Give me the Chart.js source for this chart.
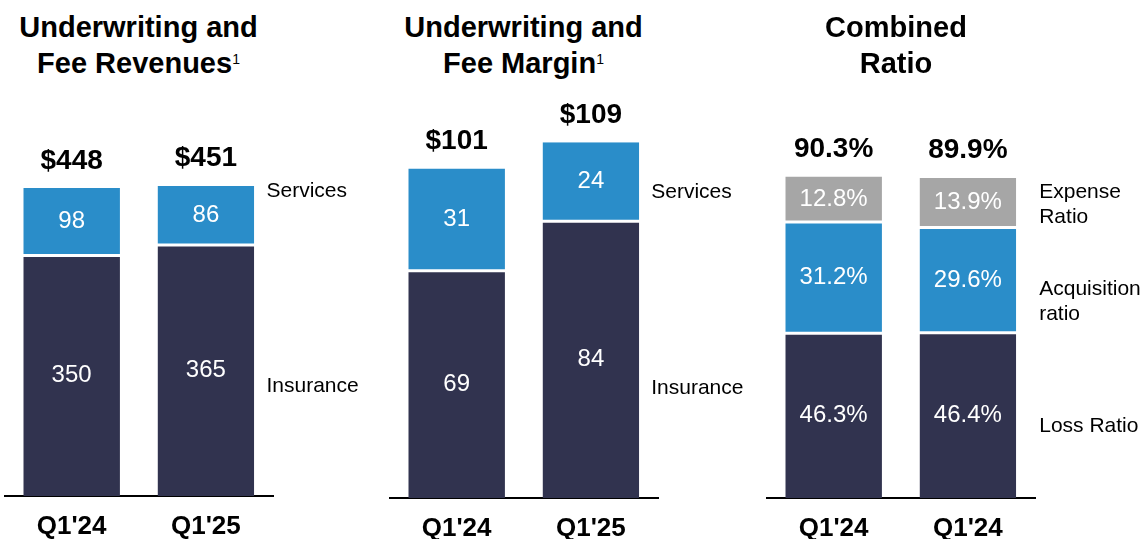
<!DOCTYPE html>
<html>
<head>
<meta charset="utf-8">
<script src="https://cdn.jsdelivr.net/npm/chart.js@4.4.1/dist/chart.umd.min.js"></script>
<style>
html,body{margin:0;padding:0;background:#fff;width:1146px;height:539px;overflow:hidden;font-family:"Liberation Sans",Arial,sans-serif;}
.panel{position:absolute;top:0;width:384px;height:539px;overflow:hidden;}
.panel canvas{position:absolute;left:0;top:0;}
.title{position:absolute;top:9px;width:268px;font-weight:bold;font-size:29px;line-height:36px;text-align:center;color:#000;white-space:nowrap;}
.title .sup{font-size:14px;font-weight:normal;position:relative;top:-9px;}
</style>
</head>
<body>
<div class="panel" style="left:0px">
  <div class="title" style="left:4.5px">Underwriting and<br>Fee Revenues<span class="sup">1</span></div>
  <canvas id="c1" width="384" height="558"></canvas>
</div>
<div class="panel" style="left:385px">
  <div class="title" style="left:4.5px">Underwriting and<br>Fee Margin<span class="sup">1</span></div>
  <canvas id="c2" width="384" height="560"></canvas>
</div>
<div class="panel" style="left:762px">
  <div class="title" style="left:0px">Combined<br>Ratio</div>
  <canvas id="c3" width="384" height="560"></canvas>
</div>
<script>
// ---- data ----
const categoriesRevenue = ["Q1'24", "Q1'25"];
const revenueInsurance = [350, 365];
const revenueServices = [98, 86];
const revenueTotals = ["$448", "$451"];

const categoriesMargin = ["Q1'24", "Q1'25"];
const marginInsurance = [69, 84];
const marginServices = [31, 24];
const marginTotals = ["$101", "$109"];

const categoriesRatio = ["Q1'24", "Q1'24"];
const lossRatio = [46.3, 46.4];
const acquisitionRatio = [31.2, 29.6];
const expenseRatio = [12.8, 13.9];
const ratioTotals = ["90.3%", "89.9%"];

// ---- styles ----
const FONT = '"Liberation Sans", Arial, sans-serif';
const NAVY = '#31334F';
const BLUE = '#2A8DC9';
const GRAY = '#A6A6A6';

const annotate = {
  id: 'annotate',
  afterDatasetsDraw(chart, args, opts) {
    const ctx = chart.ctx;
    const n = chart.data.datasets.length;
    ctx.save();
    // segment values
    ctx.fillStyle = '#fff';
    ctx.font = '24px ' + FONT;
    ctx.textAlign = 'center';
    ctx.textBaseline = 'middle';
    for (let i = 0; i < n; i++) {
      const meta = chart.getDatasetMeta(i);
      meta.data.forEach((el, j) => {
        const p = el.getProps(['x', 'y', 'base'], true);
        ctx.fillText(opts.fmt(chart.data.datasets[i].data[j]), p.x, (p.y + p.base) / 2);
      });
    }
    // totals
    ctx.fillStyle = '#000';
    ctx.font = 'bold 28px ' + FONT;
    ctx.textBaseline = 'alphabetic';
    const top = chart.getDatasetMeta(n - 1);
    top.data.forEach((el, j) => {
      const p = el.getProps(['x', 'y'], true);
      ctx.fillText(opts.totals[j], p.x, p.y - 19.5);
    });
    // side labels
    ctx.font = '21px ' + FONT;
    ctx.textAlign = 'left';
    ctx.textBaseline = 'middle';
    const ys = chart.scales.y;
    const x = chart.chartArea.right + opts.sideX;
    opts.side.forEach(s => {
      const yc = ys.getPixelForValue(s.at);
      const lh = 25;
      s.lines.forEach((t, k) => {
        ctx.fillText(t, x, yc + (k - (s.lines.length - 1) / 2) * lh);
      });
    });
    ctx.restore();
  }
};

function makeChart(id, labels, datasets, yMax, totals, fmt, side, sideX) {
  return new Chart(document.getElementById(id), {
    type: 'bar',
    data: { labels: labels, datasets: datasets },
    plugins: [annotate],
    options: {
      responsive: false,
      maintainAspectRatio: false,
      animation: false,
      devicePixelRatio: 1,
      layout: { padding: { left: 4.5, right: 111, top: 100, bottom: 0 } },
      datasets: { bar: { barPercentage: 0.72, categoryPercentage: 1 } },
      plugins: {
        legend: { display: false },
        tooltip: { enabled: false },
        annotate: { totals: totals, fmt: fmt, side: side, sideX: sideX }
      },
      scales: {
        x: {
          stacked: true,
          grid: { display: false, drawTicks: false },
          border: { display: true, color: '#000', width: 2 },
          ticks: { color: '#000', padding: 18, autoSkip: false, maxRotation: 0,
                   font: { family: FONT, size: 26, weight: 'bold', lineHeight: 1 } }
        },
        y: { stacked: true, display: false, min: 0, max: yMax }
      }
    }
  });
}

function seg(label, data, color, bw) {
  return {
    label: label, data: data, backgroundColor: color, borderColor: '#fff',
    borderWidth: bw, borderSkipped: false
  };
}
const LOWER = { top: 1.5, bottom: 0, left: 0, right: 0 };
const MIDDLE = { top: 1.5, bottom: 1.5, left: 0, right: 0 };
const UPPER = { top: 0, bottom: 1.5, left: 0, right: 0 };
const intFmt = v => String(v);
const pctFmt = v => v.toFixed(1) + '%';

makeChart('c1', categoriesRevenue, [
  seg('Insurance', revenueInsurance, NAVY, LOWER),
  seg('Services', revenueServices, BLUE, UPPER)
], 576, revenueTotals, intFmt,
  [{ lines: ['Services'], at: 443.6 }, { lines: ['Insurance'], at: 160 }], -6.5);

makeChart('c2', categoriesMargin, [
  seg('Insurance', marginInsurance, NAVY, LOWER),
  seg('Services', marginServices, BLUE, UPPER)
], 120.8, marginTotals, intFmt,
  [{ lines: ['Services'], at: 92.7 }, { lines: ['Insurance'], at: 33.4 }], -6.8);

makeChart('c3', categoriesRatio, [
  seg('Loss Ratio', lossRatio, NAVY, LOWER),
  seg('Acquisition ratio', acquisitionRatio, BLUE, MIDDLE),
  seg('Expense Ratio', expenseRatio, GRAY, UPPER)
], 111.8, ratioTotals, pctFmt,
  [{ lines: ['Expense', 'Ratio'], at: 82.3 }, { lines: ['Acquisition', 'ratio'], at: 55.2 }, { lines: ['Loss Ratio'], at: 20.2 }], 4.2);
</script>
</body>
</html>
